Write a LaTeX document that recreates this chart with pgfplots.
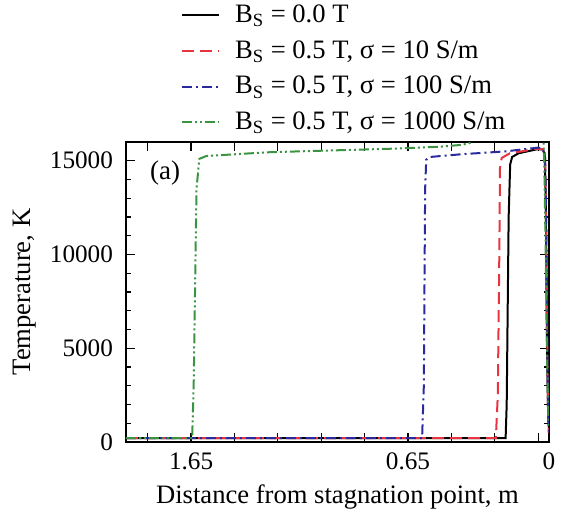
\documentclass[border=0pt]{standalone}
\usepackage{fontspec}
\setmainfont{Liberation Serif}
\usepackage{pgfplots}
\pgfplotsset{compat=1.18}

\definecolor{cred}{RGB}{232,52,64}
\definecolor{cblue}{RGB}{42,42,158}
\definecolor{cgreen}{RGB}{58,148,66}

\begin{document}
\begin{tikzpicture}
\begin{axis}[
  scale only axis,
  width=211.5pt, height=150pt,
  x dir=reverse,
  xmin=0, xmax=1.95,
  ymin=0, ymax=16000,
  xtick={0,0.05,0.25,0.45,0.65,0.85,1.05,1.25,1.45,1.65,1.85},
  xticklabels={0,,,,0.65,,,,,1.65,},
  ytick={0,5000,10000,15000},
  minor y tick num=4,
  major tick length=4.5pt,
  minor tick length=2.5pt,
  tick align=inside,
  tick style={black, line width=0.6pt},
  axis line style={line width=0.7pt},
  /pgf/number format/assume math mode=true,
  /pgf/number format/set thousands separator={},
  scaled y ticks=false,
  ticklabel style={font=\fontsize{12.6}{14}\selectfont},
  xticklabel style={yshift=-2pt},
  yticklabel style={xshift=-3pt},
  xlabel={Distance from stagnation point, m},
  ylabel={Temperature, K},
  label style={font=\fontsize{13.3}{15}\selectfont},
  xlabel style={yshift=-0.5pt},
  ylabel style={yshift=0pt},
  legend style={draw=none, fill=none, at={(0.115,1.485)}, anchor=north west,
                font=\fontsize{13.3}{15}\selectfont, row sep=3.5pt},
  legend cell align=left,
  legend image code/.code={\draw[#1] (0pt,0pt) -- (18.5pt,0pt);
                           \path (24pt,0pt);},
  every axis plot/.append style={line width=1pt},
]
\addplot[black] coordinates {
 (1.95,200) (0.200,200) (0.195,2000) (0.186,12000) (0.179,14800) (0.170,15200)
 (0.14,15400) (0.10,15500) (0.06,15600) (0.03,15600) (0.02,15400) (0.015,13000)
 (0.01,6000) (0.005,2000) (0,500)};
\addlegendentry{B\textsubscript{S} = 0.0 T}
\addplot[cred, dash pattern=on 6pt off 3pt] coordinates {
 (1.95,200) (0.245,200) (0.236,2500) (0.229,10000) (0.226,14600) (0.218,15150)
 (0.18,15400) (0.10,15550) (0.07,15640) (0.03,15620) (0.018,15300) (0.013,12000)
 (0.008,5000) (0.004,1500) (0,500)};
\addlegendentry{B\textsubscript{S} = 0.5 T, σ = 10 S/m}
\addplot[cblue, dash pattern=on 5pt off 2pt on 1pt off 2pt] coordinates {
 (1.95,200) (0.585,200) (0.577,3000) (0.571,13500) (0.566,15050) (0.55,15200)
 (0.40,15350) (0.20,15500) (0.05,15700) (0.03,15650) (0.018,15300) (0.012,11000)
 (0.007,4000) (0.003,1200) (0,500)};
\addlegendentry{B\textsubscript{S} = 0.5 T, σ = 100 S/m}
\addplot[cgreen, dash pattern=on 5pt off 1.5pt on 1pt off 1.5pt on 1pt off 1.5pt] coordinates {
 (1.95,200) (1.645,200) (1.638,3000) (1.625,13500) (1.612,15100) (1.58,15250)
 (1.30,15450) (1.00,15550) (0.70,15650) (0.50,15750) (0.40,15850) (0.36,15960)
 (0.33,16400) (0.20,17500) (0.05,17500) (0.028,16800) (0.022,15000)
 (0.015,10000) (0.008,4000) (0.003,1500) (0,800)};
\addlegendentry{B\textsubscript{S} = 0.5 T, σ = 1000 S/m}
\node[font=\fontsize{13.5}{15}\selectfont] at (axis cs:1.77,14350) {(a)};
\end{axis}
\pgfresetboundingbox
\path[use as bounding box] (-63pt,-37.5pt) rectangle (223pt,221pt);
\end{tikzpicture}
\end{document}
